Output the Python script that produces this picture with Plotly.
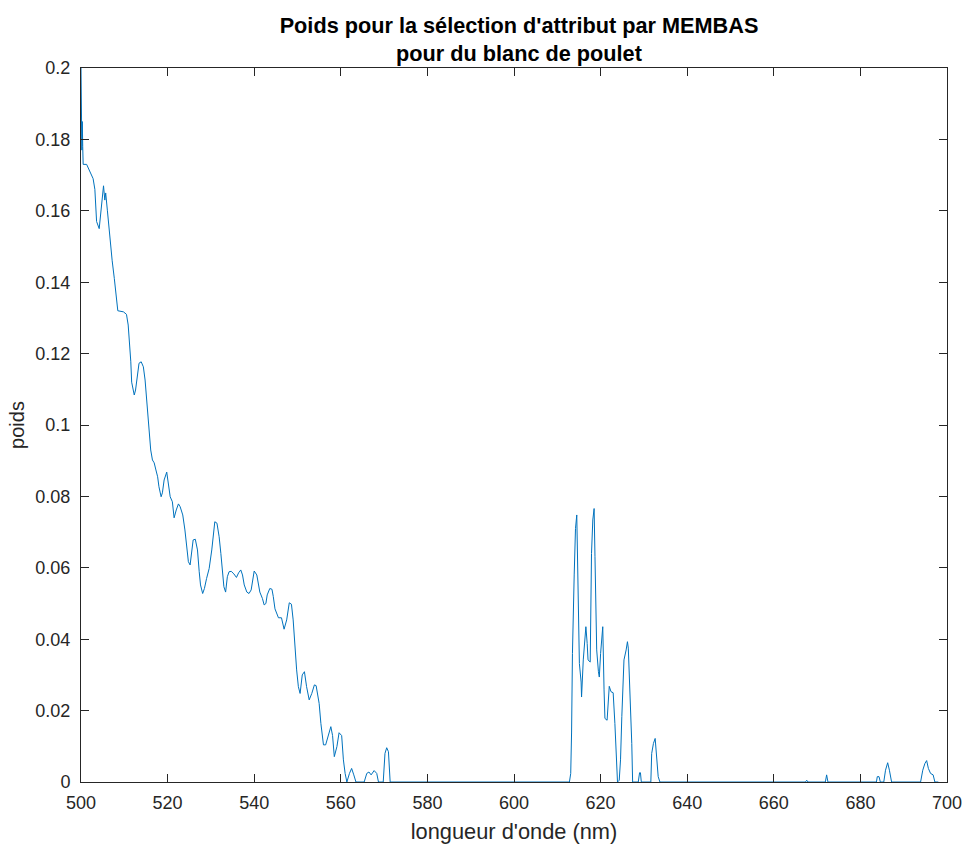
import plotly.graph_objects as go

wavelength = [
    500, 500.2, 500.3, 500.4, 500.5, 501.3, 502, 502.8, 503.2, 503.6, 504.2, 504.6, 505.2, 505.5, 505.7,
    506.1, 506.7, 507.2, 507.7, 508.2, 508.5, 509.8, 510.5, 510.9, 511.2, 511.5, 511.7, 512.1, 512.3,
    512.6, 513.0, 513.4, 513.9, 514.4, 514.8, 515.2, 515.5, 515.8, 516.1, 516.5, 516.9, 517.3, 517.7,
    518.0, 518.5, 518.8, 519.2, 519.8, 520.1, 520.6, 521.1, 521.5, 522.0, 522.5, 522.9, 523.5, 524.0,
    524.4, 524.8, 525.2, 525.6, 525.9, 526.4, 526.9, 527.3, 527.6, 528.1, 528.5, 529.0, 529.6, 530.2,
    530.6, 530.9, 531.4, 531.9, 532.3, 532.6, 533.0, 533.4, 533.8, 534.2, 534.7, 535.3, 535.9, 536.4,
    536.9, 537.3, 537.7, 538.3, 538.8, 539.3, 539.7, 540.0, 540.6, 540.9, 541.3, 541.9, 542.3, 542.7,
    543.0, 543.6, 544.1, 544.4, 544.8, 545.6, 546.3, 546.9, 547.5, 548.1, 548.6, 549.0, 549.4, 549.8,
    550.2, 550.6, 551.1, 551.6, 552.1, 552.7, 553.3, 553.9, 554.3, 555.0, 555.4, 556.0, 556.5, 557.1,
    557.7, 558.1, 558.5, 559.1, 559.6, 560.2, 560.6, 561.0, 561.4, 562.0, 562.5, 563.0, 563.5, 565.4,
    566.0, 566.5, 567.0, 567.7, 568.3, 568.7, 569.8, 570.2, 570.6, 571.0, 571.4, 612.8, 613.1, 613.3,
    613.5, 613.9, 614.2, 614.5, 614.7, 615.1, 615.5, 615.6, 616.0, 616.3, 616.6, 616.9, 617.1, 617.6,
    617.7, 617.9, 618.2, 618.5, 618.7, 619.1, 619.5, 619.7, 620.0, 620.4, 620.5, 620.8, 621.0, 621.5,
    621.8, 622.0, 622.4, 622.9, 623.3, 623.7, 623.9, 624.3, 624.6, 624.9, 625.1, 625.4, 625.9, 626.2,
    626.4, 626.8, 627.2, 627.4, 628.7, 629.0, 629.2, 629.4, 631.6, 631.8, 632.2, 632.6, 632.9, 633.3,
    633.7, 667.3, 667.6, 667.9, 671.9, 672.2, 672.5, 683.7, 683.9, 684.3, 684.6, 685.4, 685.8, 686.3,
    686.7, 687.2, 693.9, 694.4, 694.9, 695.3, 695.7, 696.2, 696.8, 697.2, 698,
]

poids = [
    0.2, 0.177, 0.185, 0.178, 0.173, 0.173, 0.171, 0.169, 0.166, 0.157, 0.155, 0.160, 0.167, 0.163, 0.165,
    0.160, 0.152, 0.146, 0.141, 0.134, 0.132, 0.1317, 0.131, 0.128, 0.1233, 0.1177, 0.112, 0.1093, 0.1084,
    0.1098, 0.1135, 0.1173, 0.1177, 0.1163, 0.1126, 0.107, 0.1023, 0.0967, 0.093, 0.0902, 0.0894, 0.0874, 0.0855,
    0.0827, 0.0799, 0.081, 0.0846, 0.0868, 0.084, 0.0799, 0.0785, 0.074, 0.0762, 0.0779, 0.0771, 0.0748, 0.0706,
    0.065, 0.0617, 0.0608, 0.065, 0.0678, 0.068, 0.065, 0.0589, 0.0552, 0.0528, 0.0542, 0.057, 0.0598, 0.065,
    0.0697, 0.0729, 0.0725, 0.0687, 0.064, 0.0594, 0.0547, 0.0532, 0.0575, 0.0589, 0.059, 0.0583, 0.0573, 0.0586,
    0.0594, 0.058, 0.0552, 0.0532, 0.0528, 0.0538, 0.0563, 0.0591, 0.058, 0.0561, 0.0532, 0.0514, 0.0496, 0.05,
    0.0524, 0.0542, 0.054, 0.052, 0.0485, 0.046, 0.046, 0.0428, 0.0454, 0.0502, 0.0498, 0.0454, 0.0379, 0.0314,
    0.0267, 0.0248, 0.030, 0.0309, 0.0267, 0.023, 0.0248, 0.0272, 0.027, 0.022, 0.0164, 0.0104, 0.0104, 0.0127,
    0.0155, 0.013, 0.0071, 0.0099, 0.0138, 0.013, 0.0062, 0.0024, 0, 0.0024, 0.0038, 0.002, 0, 0,
    0.0024, 0.0028, 0.002, 0.0032, 0.0024, 0, 0, 0.008, 0.0096, 0.0085, 0, 0, 0.0024, 0.014,
    0.036, 0.058, 0.071, 0.0748, 0.0622, 0.0332, 0.028, 0.0238, 0.0342, 0.0407, 0.0435, 0.0388, 0.0342, 0.0336,
    0.0462, 0.064, 0.0734, 0.0766, 0.0631, 0.037, 0.0309, 0.0294, 0.036, 0.0416, 0.0435, 0.0258, 0.0178, 0.0173,
    0.0258, 0.0268, 0.0253, 0.025, 0.0164, 0.0057, 0, 0.0005, 0.0062, 0.0183, 0.0267, 0.0342, 0.037, 0.0393,
    0.0375, 0.0258, 0.0108, 0, 0, 0.0026, 0.0026, 0, 0, 0.008, 0.0108, 0.0122, 0.0071, 0.0015,
    0, 0, 0.0005, 0, 0, 0.002, 0, 0, 0.0015, 0.0015, 0, 0, 0.0033, 0.0054,
    0.0033, 0, 0, 0.0033, 0.0052, 0.006, 0.0038, 0.0024, 0.002, 0, 0,
]

x_ticks = [500, 520, 540, 560, 580, 600, 620, 640, 660, 680, 700]
x_tick_labels = ["500", "520", "540", "560", "580", "600", "620", "640", "660", "680", "700"]
y_ticks = [0, 0.02, 0.04, 0.06, 0.08, 0.1, 0.12, 0.14, 0.16, 0.18, 0.2]
y_tick_labels = ["0", "0.02", "0.04", "0.06", "0.08", "0.1", "0.12", "0.14", "0.16", "0.18", "0.2"]

FONT = "Liberation Sans, Arial, Helvetica, sans-serif"
AX = "#262626"

W, H = 967, 846

fig = go.Figure()
fig.add_trace(go.Scatter(x=wavelength, y=poids, mode="lines",
                         line=dict(color="#0072BD", width=1), showlegend=False))

fig.update_layout(
    width=W, height=H,
    margin=dict(l=81, r=20, t=68, b=64, autoexpand=False),
    paper_bgcolor="white", plot_bgcolor="white",
    font=dict(family=FONT, color=AX),
    title=dict(text="<b>Poids pour la sélection d'attribut par MEMBAS<br>pour du blanc de poulet</b>",
               x=519 / W, xanchor="center", xref="container",
               y=1 - 33 / H, yanchor="middle", yref="container",
               font=dict(size=21.7, family=FONT, color="black"), automargin=False),
)
fig.update_xaxes(range=[500, 700], tickvals=x_ticks, ticktext=x_tick_labels,
                 ticks="inside", ticklen=8, tickcolor=AX, tickwidth=1,
                 showline=True, linecolor=AX, linewidth=1, mirror="ticks",
                 showgrid=False, zeroline=False, automargin=False, ticklabelstandoff=4,
                 tickfont=dict(size=18, color=AX),
                 title=dict(text="longueur d'onde (nm)", font=dict(size=21.8, color=AX), standoff=12))
fig.update_yaxes(range=[0, 0.2], tickvals=y_ticks, ticktext=y_tick_labels,
                 ticks="inside", ticklen=8, tickcolor=AX, tickwidth=1,
                 showline=True, linecolor=AX, linewidth=1, mirror="ticks",
                 showgrid=False, zeroline=False, ticklabelstandoff=6, automargin=False,
                 tickfont=dict(size=18, color=AX),
                 title=dict(text="poids", font=dict(size=20, color=AX), standoff=5))

fig.write_html("out.html", config={"displayModeBar": False},
               post_script="document.body.style.margin='0';document.body.style.overflow='hidden';")
